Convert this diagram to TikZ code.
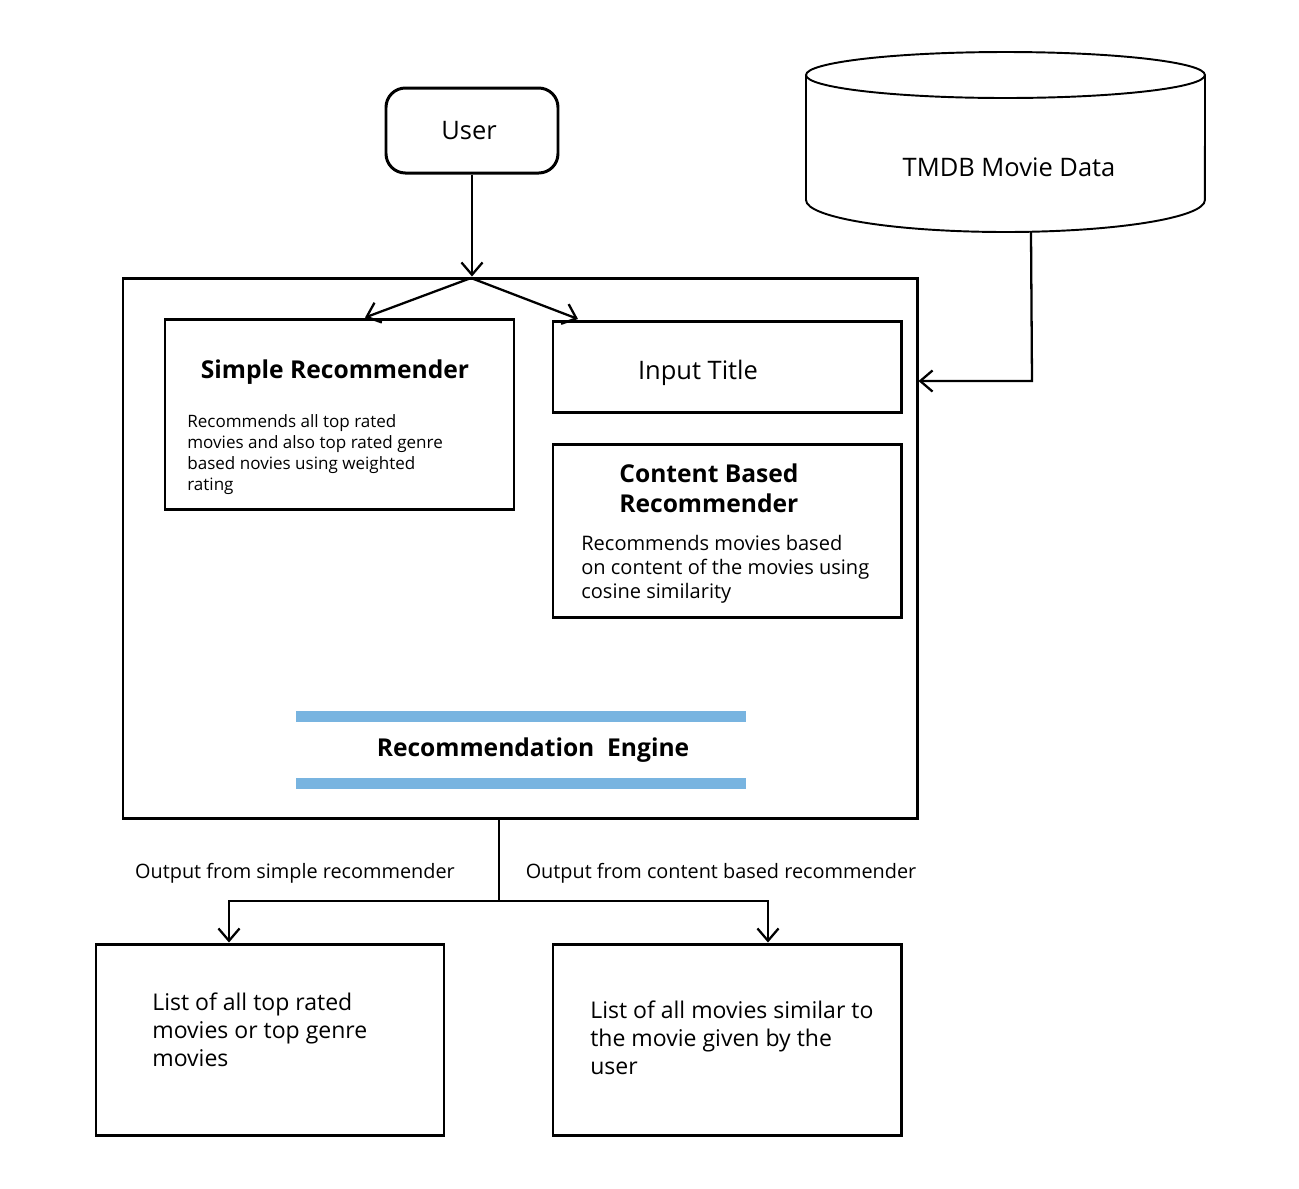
\documentclass[tikz,border=0pt]{standalone}
\usepackage{fontspec}
\setmainfont{Open Sans}
\usetikzlibrary{arrows.meta}
\definecolor{barblue}{HTML}{78B4E0}
\tikzset{
  box/.style={draw, line width=1.7pt, rectangle},
  conn/.style={line width=1.3pt, -{Straight Barb[length=7pt,width=12pt,line width=1.3pt]}},
  plain/.style={line width=1.3pt},
  big/.style={font=\fontsize{14.5}{17}\selectfont, inner sep=0pt},
  title/.style={font=\fontsize{14}{17.2}\selectfont\bfseries, inner sep=0pt},
  small/.style={font=\fontsize{9.7}{11.9}\selectfont, align=left, anchor=north west, inner sep=0pt},
  mid/.style={font=\fontsize{11.4}{13.6}\selectfont, align=left, anchor=north west, inner sep=0pt},
  outtext/.style={font=\fontsize{13.1}{15.9}\selectfont, align=left, anchor=north west, inner sep=0pt},
  lab/.style={font=\fontsize{11.3}{13}\selectfont, inner sep=0pt},
}
\begin{document}
\begin{tikzpicture}[x=0.02cm, y=-0.02cm]
\useasboundingbox (0,0) rectangle (1299,1188);
% User
\node[box, rounded corners=11pt, minimum width=172*0.02cm, minimum height=85*0.02cm] (user) at (472,130.5) {};
\node[big] (usertext) at (469,131) {User};
% Database cylinder
\draw[line width=1.1pt] (806,75) arc[start angle=180, end angle=360, x radius=3.99cm, y radius=0.46cm]
  arc[start angle=0, end angle=180, x radius=3.99cm, y radius=0.46cm] -- cycle;
\draw[line width=1.1pt] (806,75) -- (806,200) arc[start angle=180, end angle=360, x radius=3.99cm, y radius=0.64cm] -- (1205,75);
\node[big] (db) at (1009,167) {TMDB Movie Data};
\coordinate (dbbot) at (1031,232);
% Big engine box
\node[box, minimum width=794*0.02cm, minimum height=540*0.02cm] (engine) at (520,548) {};
\coordinate (split) at (471,278);
% Simple recommender
\node[box, minimum width=349*0.02cm, minimum height=190*0.02cm] (simple) at (339.5,414) {};
\node[title] (simpletitle) at (335,372) {Simple Recommender};
\node[small] (simplebody) at (187,414) {Recommends all top rated\\movies and also top rated genre\\based novies using weighted\\rating};
% Input title
\node[box, minimum width=348*0.02cm, minimum height=91*0.02cm] (input) at (727,366.5) {};
\node[big] (inputtext) at (698,373) {Input Title};
% Content based
\node[box, minimum width=348*0.02cm, minimum height=173*0.02cm] (content) at (727,530.5) {};
\node[title, align=left, anchor=north west] (contenttitle) at (619,463) {Content Based\\Recommender};
\node[mid] (contentbody) at (581,535) {Recommends movies based\\on content of the movies using\\cosine similarity};
% Blue bars
\fill[barblue] (296,711) rectangle (746,722);
\fill[barblue] (296,778) rectangle (746,789);
\node[title] (enginetitle) at (533,750) {Recommendation\ \ Engine};
% Outputs
\node[box, minimum width=348*0.02cm, minimum height=191*0.02cm] (out1) at (270,1039.5) {};
\node[outtext] (out1text) at (152,993) {List of all top rated\\movies or top genre\\movies};
\node[box, minimum width=348*0.02cm, minimum height=191*0.02cm] (out2) at (727,1039.5) {};
\node[outtext] (out2text) at (590,1001) {List of all movies similar to\\the movie given by the\\user};
\node[lab] (lab1) at (295,873) {Output from simple recommender};
\node[lab] (lab2) at (721,873) {Output from content based recommender};
% Connectors
\draw[conn] (user.south) -- (user.south |- engine.north);
\draw[conn] (split) -- (simple.north -| 365,0);
\draw[conn] (split) -- (578,319);
\coordinate (dbturn) at (1032,381);
\draw[conn] (dbbot) -- (dbturn) -- (engine.east |- dbturn);
\coordinate (bj) at (499,901);
\draw[plain] (engine.south -| bj) -- (bj);
\draw[conn] (bj) -- (229,901) -- (out1.north -| 229,0);
\draw[conn] (bj) -- (768,901) -- (out2.north -| 768,0);
\end{tikzpicture}
\end{document}
